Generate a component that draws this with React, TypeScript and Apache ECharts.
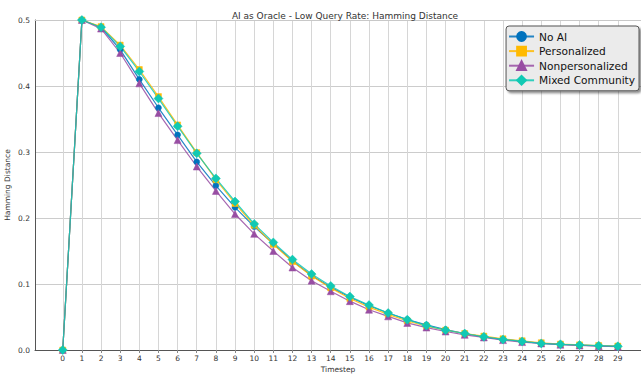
import React, { useEffect, useRef } from "react";
import * as echarts from "echarts";

const timesteps = Array.from({ length: 30 }, (_, i) => i);

const noAI = [0, 0.5, 0.489, 0.455, 0.41, 0.367, 0.326, 0.285, 0.249, 0.216, 0.187, 0.161, 0.135, 0.113, 0.095, 0.08, 0.067, 0.056, 0.046, 0.038, 0.031, 0.025, 0.02, 0.016, 0.013, 0.01, 0.0085, 0.0073, 0.0063, 0.0055];
const personalized = [0, 0.5, 0.49, 0.462, 0.425, 0.384, 0.341, 0.299, 0.258, 0.222, 0.189, 0.16, 0.134, 0.112, 0.094, 0.078, 0.065, 0.054, 0.044, 0.036, 0.03, 0.025, 0.021, 0.017, 0.014, 0.011, 0.009, 0.0078, 0.0068, 0.006];
const nonpersonalized = [0, 0.5, 0.487, 0.45, 0.404, 0.359, 0.318, 0.278, 0.241, 0.206, 0.176, 0.15, 0.125, 0.105, 0.089, 0.074, 0.061, 0.051, 0.041, 0.034, 0.028, 0.023, 0.019, 0.015, 0.012, 0.01, 0.008, 0.0068, 0.0058, 0.005];
const mixedCommunity = [0, 0.5, 0.489, 0.46, 0.422, 0.381, 0.339, 0.298, 0.26, 0.225, 0.191, 0.163, 0.137, 0.115, 0.097, 0.081, 0.068, 0.056, 0.046, 0.037, 0.03, 0.025, 0.02, 0.016, 0.013, 0.01, 0.0086, 0.0076, 0.0066, 0.0056];

const seriesDefs = [
  { name: "No AI", data: noAI, color: "#0072BD", symbol: "circle", size: 6 },
  { name: "Personalized", data: personalized, color: "#FFBA00", symbol: "rect", size: 6 },
  { name: "Nonpersonalized", data: nonpersonalized, color: "#984EA3", symbol: "triangle", size: 7 },
  { name: "Mixed Community", data: mixedCommunity, color: "#11C9B4", symbol: "diamond", size: 9 },
];

const FONT = "DejaVu Sans";

export default function App() {
  const ref = useRef<HTMLDivElement>(null);
  useEffect(() => {
    if (!ref.current) return;
    const chart = echarts.init(ref.current, null, { renderer: "svg" });
    chart.setOption({
      animation: false,
      backgroundColor: "#ffffff",
      textStyle: { fontFamily: FONT },
      title: {
        text: "AI as Oracle - Low Query Rate: Hamming Distance",
        left: 340,
        textAlign: "center",
        top: 6,
        textStyle: { fontFamily: FONT, fontSize: 9, fontWeight: "normal", color: "#333" },
      },
      grid: { left: 35, right: 0, top: 20, bottom: 25, containLabel: false, outerBoundsMode: "none" },
      legend: {
        orient: "vertical",
        right: 2,
        top: 26,
        itemWidth: 25,
        itemHeight: 11,
        itemGap: 3.6,
        padding: [5, 4, 5, 2],
        backgroundColor: "#ebebeb",
        borderColor: "#555",
        borderWidth: 1,
        borderRadius: 3,
        shadowColor: "rgba(0,0,0,0.45)",
        shadowBlur: 2,
        shadowOffsetX: 2,
        shadowOffsetY: 2,
        textStyle: { fontFamily: FONT, fontSize: 10.6, color: "#111" },
        data: seriesDefs.map((s) => s.name),
      },
      xAxis: [
        {
          type: "value",
          min: -1.45,
          max: 30.21,
          name: "Timestep",
          nameLocation: "middle",
          nameGap: 15,
          nameMoveOverlap: false,
          nameTextStyle: { fontFamily: FONT, fontSize: 7.5, color: "#333" },
          axisLine: { show: true, onZero: false, lineStyle: { color: "#555", width: 1 } },
          axisTick: { show: true, length: 3, customValues: timesteps, lineStyle: { color: "#888" } },
          axisLabel: {
            customValues: timesteps,
            fontFamily: FONT,
            fontSize: 7.5,
            color: "#333",
            margin: 4,
            formatter: (v: number) => String(v),
          },
          splitLine: { show: true, lineStyle: { color: "#d6d6d6", width: 1 } },
        },
        {
          type: "value",
          position: "top",
          min: -1.45,
          max: 30.21,
          axisLine: { show: true, onZero: false, lineStyle: { color: "#c8c8c8", width: 1 } },
          axisTick: { show: false },
          axisLabel: { show: false },
          splitLine: { show: false },
        },
      ],
      yAxis: {
        type: "value",
        min: 0,
        max: 0.5,
        interval: 0.1,
        name: "Hamming Distance",
        nameLocation: "middle",
        nameGap: 24,
        nameMoveOverlap: false,
        nameTextStyle: { fontFamily: FONT, fontSize: 7.5, color: "#333" },
        axisLine: { show: true, onZero: false, lineStyle: { color: "#555", width: 1 } },
        axisTick: { show: false },
        axisLabel: {
          fontFamily: FONT,
          fontSize: 7.5,
          color: "#333",
          margin: 5,
          formatter: (v: number) => v.toFixed(1),
        },
        splitLine: { show: true, lineStyle: { color: "#cccccc", width: 1 } },
      },
      series: seriesDefs.map((s) => ({
        name: s.name,
        type: "line",
        xAxisIndex: 0,
        data: s.data.map((v, i) => [timesteps[i], v]),
        symbol: s.symbol,
        symbolSize: s.size,
        showSymbol: true,
        color: s.color,
        lineStyle: { color: s.color, width: 1.2, opacity: 0.85 },
        itemStyle: { color: s.color, borderColor: s.color, borderWidth: 0.5 },
        emphasis: { disabled: true },
      })),
    });
    return () => chart.dispose();
  }, []);
  return (
    <div
      ref={ref}
      style={{ position: "fixed", left: 0, top: 0, width: 641, height: 375 }}
    />
  );
}
